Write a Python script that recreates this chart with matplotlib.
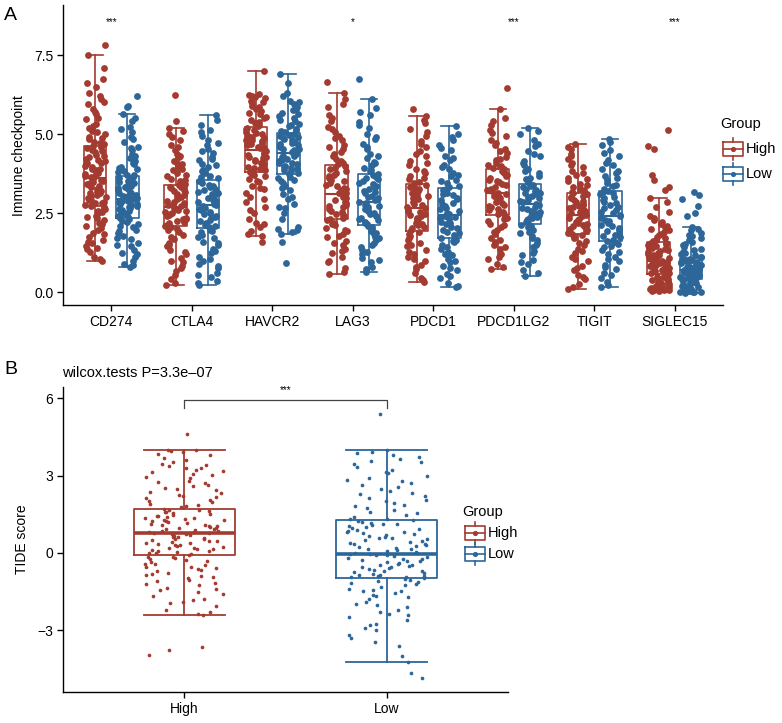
import matplotlib
matplotlib.use("Agg")
import matplotlib.pyplot as plt
import numpy as np

plt.rcParams['font.family'] = ['Liberation Sans', 'DejaVu Sans']

RED = "#A33B30"
BLUE = "#2D6699"

# ---------------- panel A data ----------------
genes = ["CD274", "CTLA4", "HAVCR2", "LAG3", "PDCD1", "PDCD1LG2", "TIGIT", "SIGLEC15"]
signif = ["***", "", "", "*", "", "***", "", "***"]

# box stats (whisker low, q1, median, q3, whisker high)
high_whislo = [0.99, 0.22, 1.78, 0.56, 0.31, 0.73, 0.09, 0.05]
high_q1 = [2.73, 2.10, 3.81, 2.30, 1.93, 2.44, 1.83, 0.56]
high_med = [3.60, 2.70, 4.50, 3.10, 2.65, 3.15, 2.45, 1.00]
high_q3 = [4.63, 3.39, 5.23, 4.02, 3.42, 3.91, 3.12, 1.59]
high_whishi = [7.50, 5.18, 7.00, 6.31, 5.58, 5.78, 4.68, 2.98]

low_whislo = [0.78, 0.22, 1.85, 0.64, 0.15, 0.51, 0.17, -0.02]
low_q1 = [2.33, 2.02, 3.73, 2.12, 1.70, 2.17, 1.61, 0.43]
low_med = [2.95, 2.75, 4.40, 2.85, 2.45, 2.80, 2.40, 0.70]
low_q3 = [3.68, 3.54, 5.04, 3.73, 3.28, 3.42, 3.20, 1.07]
low_whishi = [5.62, 5.60, 6.90, 6.10, 5.25, 5.20, 4.83, 2.07]

# jittered sample values per gene
cd274_high = [0.99, 1.12, 1.28, 1.4, 1.47, 1.55, 1.66, 1.74, 1.83, 1.95, 2.02, 2.1, 2.18, 2.27, 2.33, 2.41,
              2.5, 2.56, 2.62, 2.7, 2.76, 2.81, 2.86, 2.9, 2.97, 3.01, 3.06, 3.12, 3.17, 3.21, 3.27, 3.32,
              3.38, 3.43, 3.47, 3.52, 3.57, 3.63, 3.68, 3.74, 3.79, 3.85, 3.91, 3.97, 4.04, 4.1, 4.16, 4.22,
              4.29, 4.35, 4.42, 4.48, 4.55, 4.61, 4.68, 4.75, 4.83, 4.92, 5.0, 5.1, 5.2, 5.33, 5.47, 5.62,
              5.78, 5.95, 6.1, 6.3, 6.5, 6.75, 7.1, 7.5, 7.82,
              1.05, 1.35, 1.6, 1.88, 2.15, 2.38, 2.52, 2.65, 2.74, 2.83, 2.93, 3.04, 3.14, 3.24, 3.35, 3.45,
              3.55, 3.66, 3.77, 3.88, 3.99, 4.08, 4.19, 4.32, 4.45, 4.58, 4.71, 4.87, 5.05, 5.25, 5.5, 5.7,
              6.0, 6.2, 6.6]
cd274_low = [0.78, 0.85, 0.98, 1.1, 1.2, 1.32, 1.45, 1.55, 1.67, 1.78, 1.88, 1.97, 2.06, 2.14, 2.22, 2.3,
             2.36, 2.41, 2.47, 2.52, 2.58, 2.62, 2.67, 2.72, 2.76, 2.8, 2.85, 2.89, 2.93, 2.98, 3.03, 3.08,
             3.13, 3.18, 3.23, 3.29, 3.34, 3.4, 3.45, 3.51, 3.57, 3.63, 3.72, 3.8, 3.88, 3.97, 4.06, 4.15,
             4.25, 4.36, 4.48, 4.6, 4.75, 4.9, 5.05, 5.22, 5.4, 5.62, 5.9, 6.21,
             0.9, 1.25, 1.5, 1.72, 1.93, 2.1, 2.26, 2.39, 2.49, 2.6, 2.7, 2.78, 2.87, 2.96, 3.05, 3.15,
             3.26, 3.37, 3.48, 3.6, 3.7, 3.84, 3.93, 4.1, 4.3, 4.55, 4.85, 5.15, 5.5, 5.85]
ctla4_high = [0.22, 0.4, 0.55, 0.68, 0.82, 0.95, 1.08, 1.2, 1.32, 1.45, 1.56, 1.68, 1.8, 1.9, 1.99, 2.06,
              2.13, 2.19, 2.24, 2.3, 2.35, 2.41, 2.46, 2.51, 2.56, 2.6, 2.65, 2.72, 2.77, 2.83, 2.88, 2.94,
              3.0, 3.05, 3.11, 3.17, 3.22, 3.28, 3.34, 3.43, 3.5, 3.58, 3.67, 3.76, 3.85, 3.95, 4.05, 4.15,
              4.26, 4.38, 4.5, 4.65, 4.82, 5.0, 5.18, 5.41, 6.25,
              0.3, 0.75, 1.0, 1.28, 1.5, 1.74, 1.95, 2.09, 2.21, 2.32, 2.44, 2.54, 2.63, 2.75, 2.86, 2.97,
              3.08, 3.2, 3.31, 3.4, 3.54, 3.72, 3.9, 4.1, 4.32, 4.58, 4.9, 5.1]
ctla4_low = [0.22, 0.35, 0.48, 0.6, 0.75, 0.88, 1.0, 1.12, 1.25, 1.36, 1.48, 1.6, 1.7, 1.8, 1.9, 1.98,
             2.06, 2.13, 2.2, 2.27, 2.34, 2.41, 2.47, 2.54, 2.6, 2.66, 2.71, 2.79, 2.85, 2.92, 2.98, 3.05,
             3.11, 3.18, 3.24, 3.31, 3.37, 3.44, 3.5, 3.6, 3.68, 3.77, 3.86, 3.96, 4.06, 4.17, 4.28, 4.4,
             4.52, 4.65, 4.8, 4.95, 5.12, 5.3, 5.6,
             0.28, 0.55, 0.82, 1.06, 1.3, 1.54, 1.75, 1.94, 2.1, 2.24, 2.37, 2.5, 2.63, 2.75, 2.88, 3.01,
             3.14, 3.27, 3.4, 3.52, 3.64, 3.82, 4.01, 4.22, 4.46, 4.72, 5.05, 5.45]
havcr2_high = [1.59, 1.78, 1.92, 2.05, 2.2, 2.3, 2.5, 2.7, 2.85, 3.0, 3.12, 3.25, 3.36, 3.47, 3.57, 3.66,
               3.75, 3.85, 3.9, 3.96, 4.02, 4.07, 4.13, 4.18, 4.23, 4.29, 4.34, 4.39, 4.45, 4.55, 4.6, 4.66,
               4.71, 4.77, 4.82, 4.88, 4.94, 5.0, 5.06, 5.12, 5.18, 5.3, 5.38, 5.46, 5.55, 5.63, 5.72, 5.8,
               5.88, 5.97, 6.05, 6.13, 6.2, 6.28, 7.0,
               1.85, 2.15, 2.6, 2.95, 3.3, 3.52, 3.7, 3.8, 3.93, 4.04, 4.15, 4.26, 4.37, 4.48, 4.58, 4.69,
               4.8, 4.91, 5.03, 5.15, 5.24, 5.34, 5.5, 5.67, 5.84, 6.0, 6.16, 6.25]
havcr2_low = [0.91, 1.6, 1.85, 1.95, 2.05, 2.3, 2.5, 2.65, 2.8, 2.95, 3.1, 3.22, 3.35, 3.46, 3.56, 3.65,
              3.77, 3.82, 3.88, 3.94, 4.0, 4.05, 4.1, 4.16, 4.21, 4.27, 4.32, 4.37, 4.44, 4.49, 4.54, 4.59,
              4.64, 4.7, 4.75, 4.8, 4.86, 4.91, 4.96, 5.01, 5.1, 5.17, 5.25, 5.33, 5.41, 5.5, 5.58, 5.67,
              5.76, 5.85, 5.95, 6.05, 6.2, 6.6, 6.9,
              1.9, 2.0, 2.7, 3.0, 3.3, 3.5, 3.62, 3.74, 3.85, 3.97, 4.08, 4.19, 4.3, 4.42, 4.52, 4.62,
              4.73, 4.84, 4.94, 5.05, 5.14, 5.29, 5.46, 5.63, 5.8, 6.0, 6.3]
lag3_high = [0.56, 0.75, 0.95, 1.1, 1.25, 1.38, 1.5, 1.62, 1.73, 1.84, 1.94, 2.03, 2.12, 2.2, 2.27, 2.34,
             2.41, 2.48, 2.55, 2.62, 2.69, 2.76, 2.83, 2.9, 2.97, 3.04, 3.15, 3.22, 3.3, 3.37, 3.45, 3.52,
             3.6, 3.68, 3.76, 3.84, 3.92, 3.99, 4.1, 4.2, 4.3, 4.42, 4.54, 4.66, 4.8, 4.94, 5.08, 5.22,
             5.4, 5.6, 5.85, 6.1, 6.31, 6.64,
             0.65, 1.0, 1.3, 1.56, 1.78, 1.98, 2.16, 2.31, 2.45, 2.58, 2.72, 2.86, 3.0, 3.12, 3.26, 3.4,
             3.55, 3.72, 3.88, 4.04, 4.15, 4.36, 4.6, 4.87, 5.15, 5.5, 5.95]
lag3_low = [0.64, 0.8, 0.95, 1.08, 1.2, 1.32, 1.44, 1.55, 1.65, 1.75, 1.84, 1.93, 2.01, 2.08, 2.16, 2.22,
            2.29, 2.36, 2.42, 2.49, 2.56, 2.62, 2.69, 2.75, 2.81, 2.9, 2.97, 3.05, 3.12, 3.2, 3.27, 3.35,
            3.42, 3.5, 3.57, 3.65, 3.71, 3.82, 3.92, 4.02, 4.13, 4.25, 4.38, 4.52, 4.67, 4.83, 5.0, 5.18,
            5.38, 5.6, 5.82, 6.1, 6.73,
            0.72, 1.02, 1.26, 1.5, 1.7, 1.88, 2.05, 2.19, 2.32, 2.46, 2.59, 2.72, 2.86, 3.0, 3.16, 3.31,
            3.46, 3.6, 3.74, 3.87, 4.07, 4.3, 4.6, 4.92, 5.28, 5.7]
pdcd1_high = [0.31, 0.45, 0.6, 0.72, 0.85, 0.98, 1.1, 1.22, 1.34, 1.45, 1.56, 1.66, 1.76, 1.85, 1.98, 2.05,
              2.12, 2.2, 2.27, 2.34, 2.41, 2.48, 2.55, 2.61, 2.7, 2.77, 2.84, 2.91, 2.98, 3.05, 3.12, 3.19,
              3.26, 3.33, 3.39, 3.48, 3.57, 3.67, 3.78, 3.9, 4.02, 4.15, 4.3, 4.45, 4.6, 4.78, 4.95, 5.15,
              5.35, 5.58, 5.78,
              0.38, 0.78, 1.04, 1.28, 1.5, 1.7, 1.9, 2.02, 2.16, 2.3, 2.44, 2.58, 2.66, 2.8, 2.94, 3.08,
              3.22, 3.36, 3.44, 3.62, 3.84, 4.08, 4.38, 4.7, 5.05, 5.45]
pdcd1_low = [0.15, 0.3, 0.45, 0.58, 0.7, 0.82, 0.94, 1.05, 1.16, 1.27, 1.38, 1.48, 1.58, 1.66, 1.75, 1.82,
             1.9, 1.98, 2.06, 2.14, 2.22, 2.3, 2.37, 2.42, 2.5, 2.58, 2.66, 2.74, 2.82, 2.9, 2.98, 3.06,
             3.14, 3.21, 3.26, 3.36, 3.45, 3.55, 3.66, 3.78, 3.9, 4.03, 4.17, 4.32, 4.48, 4.65, 4.82, 5.0,
             5.25,
             0.2, 0.52, 0.76, 1.0, 1.22, 1.43, 1.62, 1.72, 1.86, 2.02, 2.18, 2.33, 2.46, 2.62, 2.78, 2.94,
             3.1, 3.24, 3.31, 3.5, 3.72, 3.96, 4.24, 4.56, 4.9]
pdcd1lg2_high = [0.73, 0.9, 1.05, 1.2, 1.35, 1.48, 1.6, 1.72, 1.84, 1.95, 2.06, 2.16, 2.26, 2.36, 2.48,
                 2.55, 2.62, 2.69, 2.76, 2.83, 2.9, 2.97, 3.04, 3.1, 3.2, 3.27, 3.34, 3.41, 3.48, 3.55, 3.62,
                 3.69, 3.76, 3.83, 3.89, 3.98, 4.07, 4.17, 4.28, 4.4, 4.52, 4.65, 4.8, 4.95, 5.12, 5.3, 5.5,
                 5.78, 6.47,
                 0.8, 1.12, 1.42, 1.66, 1.9, 2.11, 2.31, 2.46, 2.59, 2.72, 2.86, 3.0, 3.13, 3.24, 3.38, 3.52,
                 3.66, 3.8, 3.92, 4.02, 4.22, 4.46, 4.72, 5.02, 5.4]
pdcd1lg2_low = [0.51, 0.7, 0.88, 1.02, 1.16, 1.3, 1.42, 1.54, 1.65, 1.76, 1.86, 1.96, 2.05, 2.13, 2.21,
                2.27, 2.33, 2.39, 2.45, 2.51, 2.57, 2.63, 2.69, 2.75, 2.85, 2.91, 2.97, 3.03, 3.09, 3.15,
                3.21, 3.27, 3.33, 3.39, 3.48, 3.57, 3.67, 3.78, 3.9, 4.02, 4.16, 4.3, 4.45, 4.62, 4.8, 5.0,
                5.2,
                0.6, 0.95, 1.23, 1.48, 1.7, 1.91, 2.09, 2.2, 2.3, 2.42, 2.54, 2.66, 2.78, 2.88, 3.0, 3.12,
                3.24, 3.36, 3.44, 3.62, 3.84, 4.09, 4.38, 4.7, 5.1]
tigit_high = [0.09, 0.25, 0.4, 0.55, 0.7, 0.84, 0.98, 1.12, 1.25, 1.38, 1.5, 1.62, 1.72, 1.8, 1.87, 1.93,
              1.99, 2.05, 2.11, 2.17, 2.23, 2.29, 2.35, 2.41, 2.5, 2.56, 2.62, 2.68, 2.74, 2.8, 2.86, 2.92,
              2.98, 3.04, 3.1, 3.18, 3.26, 3.34, 3.43, 3.52, 3.62, 3.72, 3.83, 3.95, 4.08, 4.22, 4.38, 4.52,
              4.68,
              0.17, 0.48, 0.77, 1.05, 1.31, 1.56, 1.76, 1.84, 1.96, 2.08, 2.2, 2.32, 2.44, 2.53, 2.65, 2.77,
              2.89, 3.01, 3.12, 3.22, 3.38, 3.57, 3.78, 4.01, 4.3, 4.6]
tigit_low = [0.17, 0.32, 0.46, 0.6, 0.73, 0.86, 0.98, 1.1, 1.21, 1.32, 1.42, 1.51, 1.58, 1.66, 1.73, 1.81,
             1.88, 1.96, 2.04, 2.12, 2.2, 2.28, 2.35, 2.45, 2.53, 2.61, 2.69, 2.77, 2.85, 2.93, 3.01, 3.09,
             3.16, 3.26, 3.35, 3.45, 3.55, 3.66, 3.78, 3.9, 4.03, 4.17, 4.32, 4.5, 4.65, 4.83,
             0.24, 0.53, 0.8, 1.04, 1.26, 1.46, 1.62, 1.77, 1.92, 2.08, 2.24, 2.4, 2.49, 2.65, 2.81, 2.97,
             3.12, 3.21, 3.4, 3.6, 3.84, 4.1, 4.4, 4.74]
siglec15_high = [0.05, 0.06, 0.08, 0.1, 0.12, 0.16, 0.2, 0.25, 0.3, 0.35, 0.4, 0.45, 0.5, 0.54, 0.6, 0.65,
                 0.7, 0.75, 0.8, 0.85, 0.9, 0.95, 0.98, 1.05, 1.1, 1.16, 1.22, 1.28, 1.34, 1.4, 1.46, 1.52,
                 1.57, 1.65, 1.75, 1.85, 1.95, 2.05, 2.15, 2.28, 2.4, 2.55, 2.7, 2.85, 2.98, 3.23, 3.33,
                 3.54, 3.7, 4.53, 4.63, 5.13,
                 0.05, 0.07, 0.09, 0.11, 0.14, 0.18, 0.22, 0.28, 0.33, 0.38, 0.43, 0.48, 0.52, 0.57, 0.62,
                 0.68, 0.73, 0.78, 0.83, 0.88, 0.93, 1.02, 1.08, 1.13, 1.19, 1.25, 1.31, 1.37, 1.43, 1.49,
                 1.55, 1.62, 1.7, 1.8, 1.9, 2.0, 2.1, 2.22, 2.35]
siglec15_low = [-0.02, 0.0, 0.02, 0.04, 0.06, 0.1, 0.14, 0.18, 0.22, 0.26, 0.3, 0.34, 0.38, 0.41, 0.45,
                0.49, 0.53, 0.57, 0.61, 0.65, 0.68, 0.72, 0.76, 0.8, 0.84, 0.88, 0.92, 0.96, 1.0, 1.04,
                1.12, 1.2, 1.28, 1.38, 1.48, 1.58, 1.7, 1.82, 1.95, 2.07, 2.42, 2.5, 2.72, 2.95, 3.07, 3.17,
                -0.01, 0.01, 0.03, 0.05, 0.08, 0.12, 0.16, 0.2, 0.24, 0.28, 0.32, 0.36, 0.4, 0.43, 0.47,
                0.51, 0.55, 0.59, 0.63, 0.67, 0.7, 0.74, 0.78, 0.82, 0.86, 0.9, 0.94, 0.98, 1.02, 1.06,
                1.1, 1.16, 1.24, 1.33, 1.43, 1.53, 1.64, 1.76, 1.88, 2.0]

points_high = [cd274_high, ctla4_high, havcr2_high, lag3_high, pdcd1_high, pdcd1lg2_high, tigit_high, siglec15_high]
points_low = [cd274_low, ctla4_low, havcr2_low, lag3_low, pdcd1_low, pdcd1lg2_low, tigit_low, siglec15_low]

# ---------------- panel B data ----------------
tide_groups = ["High", "Low"]
tide_whislo = [-2.40, -4.24]
tide_q1 = [-0.08, -0.96]
tide_med = [0.79, -0.03]
tide_q3 = [1.72, 1.28]
tide_whishi = [4.00, 4.00]

tide_high = [-3.95, -3.78, -3.65, -2.4, -2.36, -2.21, -2.05, -1.96, -1.83, -1.77, -1.6, -1.52, -1.44, -1.37,
             -1.25, -1.16, -1.1, -1.04, -0.95, -0.9, -0.84, -0.76, -0.71, -0.64, -0.6, -0.53, -0.47, -0.44,
             -0.36, -0.31, -0.25, -0.2, -0.14, -0.1, -0.05, 0.0, 0.03, 0.06, 0.1, 0.14, 0.17, 0.21, 0.23,
             0.28, 0.32, 0.34, 0.39, 0.42, 0.46, 0.48, 0.53, 0.55, 0.59, 0.62, 0.66, 0.68, 0.72, 0.74, 0.77,
             0.8, 0.84, 0.86, 0.91, 0.94, 0.97, 1.03, 1.06, 1.1, 1.13, 1.19, 1.22, 1.26, 1.29, 1.34, 1.37,
             1.42, 1.45, 1.48, 1.54, 1.57, 1.62, 1.66, 1.7, 1.78, 1.86, 1.91, 2.01, 2.07, 2.16, 2.22, 2.31,
             2.37, 2.46, 2.53, 2.63, 2.71, 2.79, 2.91, 3.01, 3.07, 3.16, 3.23, 3.31, 3.37, 3.46, 3.54, 3.66,
             3.8, 3.91, 3.95, 4.0, 4.62,
             -2.3, -1.9, -1.68, -1.4, -1.2, -0.98, -0.8, -0.66, -0.55, -0.42, -0.28, -0.17, -0.02, 0.08,
             0.19, 0.3, 0.4, 0.5, 0.6, 0.7, 0.76, 0.82, 0.88, 0.96, 1.0, 1.08, 1.16, 1.24, 1.32, 1.4, 1.5,
             1.6, 1.68, 1.82, 1.96, 2.12, 2.26, 2.42, 2.58, 2.76, 2.95, 3.12, 3.28, 3.42, 3.6, 3.85, 3.97]
tide_low = [-4.84, -4.64, -4.24, -3.98, -3.62, -3.3, -3.18, -2.98, -2.9, -2.74, -2.61, -2.49, -2.42, -2.28,
            -2.21, -2.09, -2.0, -1.92, -1.79, -1.72, -1.64, -1.56, -1.49, -1.46, -1.38, -1.31, -1.24, -1.21,
            -1.14, -1.09, -1.05, -0.99, -0.95, -0.91, -0.88, -0.84, -0.81, -0.76, -0.71, -0.69, -0.63,
            -0.6, -0.56, -0.51, -0.47, -0.45, -0.39, -0.36, -0.31, -0.29, -0.24, -0.2, -0.15, -0.12, -0.08,
            -0.05, -0.03, 0.01, 0.04, 0.11, 0.14, 0.2, 0.26, 0.29, 0.36, 0.4, 0.44, 0.51, 0.55, 0.59, 0.66,
            0.69, 0.76, 0.8, 0.86, 0.89, 0.96, 1.01, 1.04, 1.11, 1.16, 1.19, 1.26, 1.33, 1.46, 1.53, 1.67,
            1.74, 1.86, 1.94, 2.07, 2.13, 2.27, 2.33, 2.46, 2.57, 2.64, 2.77, 2.84, 2.97, 3.08, 3.21, 3.33,
            3.52, 3.58, 3.71, 3.79, 3.92, 4.0, 5.39,
            -3.45, -2.8, -2.35, -1.98, -1.68, -1.42, -1.18, -1.02, -0.93, -0.86, -0.74, -0.66, -0.54, -0.42,
            -0.33, -0.22, -0.1, -0.01, 0.07, 0.17, 0.23, 0.33, 0.47, 0.57, 0.63, 0.73, 0.83, 0.93, 1.07,
            1.14, 1.23, 1.3, 1.4, 1.6, 1.8, 2.0, 2.2, 2.4, 2.7, 2.9, 3.15, 3.45, 3.65, 3.87]


def jitter(n, seed):
    # deterministic spread in [-1, 1] for horizontal jitter
    i = np.arange(n) + seed * 97
    return (np.sin(i * 12.9898 + seed * 78.233) * 43758.5453) % 1.0 * 2 - 1


def style_axes(ax):
    for s in ["top", "right"]:
        ax.spines[s].set_visible(False)
    for s in ["left", "bottom"]:
        ax.spines[s].set_linewidth(1.0)
    ax.tick_params(axis="both", length=4, width=1.0, labelsize=10, pad=3, colors="black")


fig = plt.figure(figsize=(7.82, 7.23), dpi=100)

# ---------------- panel A ----------------
axA = fig.add_axes([0.0806, 0.578, 0.844, 0.415])
pos = np.arange(1, len(genes) + 1)
for k, (color, off, wl, q1, md, q3, wh, pts) in enumerate([
        (RED, -0.2, high_whislo, high_q1, high_med, high_q3, high_whishi, points_high),
        (BLUE, 0.2, low_whislo, low_q1, low_med, low_q3, low_whishi, points_low)]):
    stats = [dict(whislo=wl[i], q1=q1[i], med=md[i], q3=q3[i], whishi=wh[i], label=genes[i])
             for i in range(len(genes))]
    lp = dict(color=color, linewidth=1.2)
    axA.bxp(stats, positions=pos + off, widths=0.28, capwidths=0.2, showfliers=False,
            boxprops=lp, whiskerprops=lp, capprops=lp,
            medianprops=dict(color=color, linewidth=1.5), manage_ticks=False)
    for i, vals in enumerate(pts):
        v = np.array(vals)
        xj = pos[i] + off + jitter(len(v), i + 10 * k + 1) * 0.13
        axA.scatter(xj, v, s=24, color=color, linewidths=0, zorder=3)

for i, s in enumerate(signif):
    if s:
        axA.text(pos[i], 8.55, s, ha="center", va="center", fontsize=7)

axA.set_xlim(0.4, 8.6)
axA.set_ylim(-0.41, 9.08)
axA.set_xticks(pos)
axA.set_xticklabels(genes)
axA.set_yticks([0, 2.5, 5.0, 7.5])
axA.set_yticklabels(["0.0", "2.5", "5.0", "7.5"])
axA.set_ylabel("Immune checkpoint", fontsize=10, labelpad=6)
style_axes(axA)

# ---------------- panel B ----------------
axB = fig.add_axes([0.0806, 0.0429, 0.569, 0.4218])
posB = np.arange(1, 3)
for k, (color, pts) in enumerate([(RED, tide_high), (BLUE, tide_low)]):
    st = [dict(whislo=tide_whislo[k], q1=tide_q1[k], med=tide_med[k], q3=tide_q3[k],
               whishi=tide_whishi[k], label=tide_groups[k])]
    lp = dict(color=color, linewidth=1.3)
    axB.bxp(st, positions=[posB[k]], widths=0.5, capwidths=0.4, showfliers=False,
            boxprops=lp, whiskerprops=lp, capprops=lp,
            medianprops=dict(color=color, linewidth=2.6), manage_ticks=False)
    v = np.array(pts)
    xj = posB[k] + jitter(len(v), 30 + k) * 0.2
    axB.scatter(xj, v, s=7, color=color, linewidths=0, zorder=3)

# significance bracket
axB.plot([1, 1, 2, 2], [5.6, 5.94, 5.94, 5.6], color="#444444", linewidth=0.9)
axB.text(1.5, 6.3, "***", ha="center", va="center", fontsize=7)

axB.set_xlim(0.4, 2.6)
axB.set_ylim(-5.39, 6.43)
axB.set_xticks(posB)
axB.set_xticklabels(tide_groups)
axB.set_yticks([-3, 0, 3, 6])
axB.set_ylabel("TIDE score", fontsize=10, labelpad=6)
style_axes(axB)

fig.text(62 / 782, 1 - 373 / 723, "wilcox.tests P=3.3e\u201307", ha="left", va="center", fontsize=10.5)

# ---------------- overlay: panel letters and legends ----------------
ov = fig.add_axes([0, 0, 1, 1], zorder=10)
ov.set_xlim(0, 782)
ov.set_ylim(723, 0)
ov.axis("off")
ov.patch.set_alpha(0)

ov.text(4, 16, "A", fontsize=14, ha="left", va="center")
ov.text(4, 370, "B", fontsize=14, ha="left", va="center")


def legend_key(x, y, color, half=10, bh=7, wh=11):
    ov.plot([x - half, x + half, x + half, x - half, x - half],
            [y - bh, y - bh, y + bh, y + bh, y - bh], color=color, linewidth=1.2)
    ov.plot([x, x], [y - wh, y - bh], color=color, linewidth=1.2)
    ov.plot([x, x], [y + bh, y + wh], color=color, linewidth=1.2)
    ov.plot([x - half, x + half], [y, y], color=color, linewidth=1.2)
    ov.scatter([x], [y], s=14, color=color, linewidths=0, zorder=5)


def legend(x, y, dy, gap):
    ov.text(x, y, "Group", fontsize=10.5, ha="left", va="center")
    for j, (lab, color) in enumerate([("High", RED), ("Low", BLUE)]):
        yy = y + dy * (j + 1)
        legend_key(x + gap, yy, color)
        ov.text(x + gap + 13, yy, lab, fontsize=10.5, ha="left", va="center")


legend(720, 124, 25, 13)
legend(462, 512, 21, 13)

fig.savefig("out.png", dpi=100)
